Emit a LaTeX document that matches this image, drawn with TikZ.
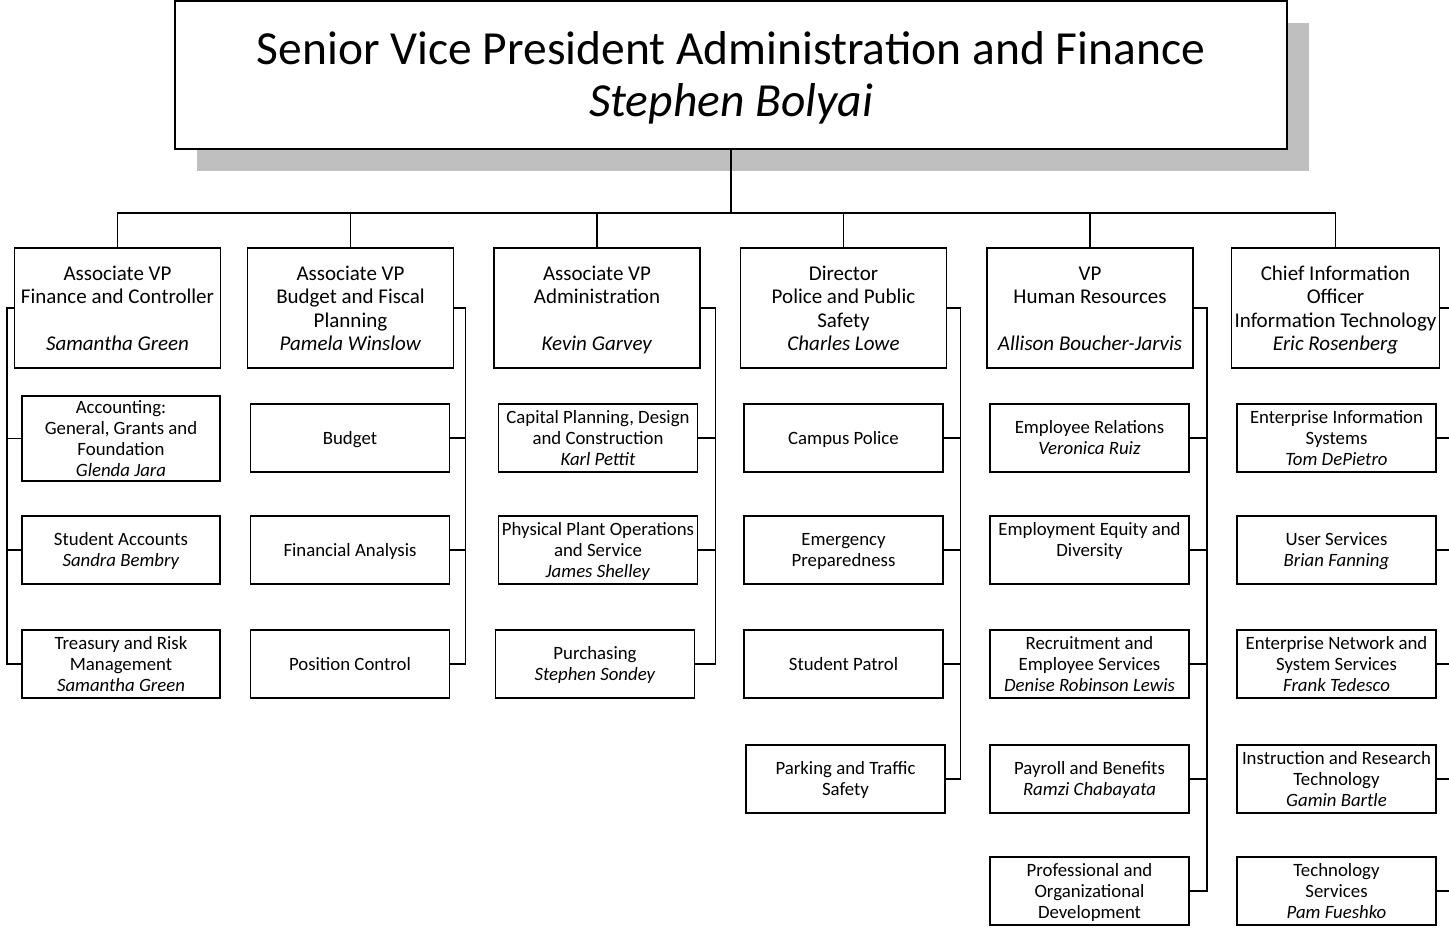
\documentclass[tikz,border=0pt]{standalone}
\usepackage{fontspec}
\setmainfont{Carlito}
\usetikzlibrary{shadows}
% invisible rules fixing the first-line height and last-line depth of node texts
\newcommand\HdA{\rule{0pt}{20.8pt}}
\newcommand\HdZ{\rule[-6pt]{0pt}{6pt}}
\newcommand\SbA{\rule{0pt}{17.2pt}}
\newcommand\SbZ{\rule[-5pt]{0pt}{5pt}}
\newcommand\TtA{\rule{0pt}{43pt}}
\newcommand\TtZ{\rule[-13pt]{0pt}{13pt}}
\begin{document}
\begin{tikzpicture}[x=1pt,y=-1pt,
  frame/.style={draw=black, line width=1.5pt, fill=white, inner sep=0pt, align=center},
  head/.style={frame, minimum width=206pt, minimum height=120pt, font=\fontsize{21}{23.5}\selectfont},
  sub/.style={frame, minimum width=199pt, minimum height=68pt, font=\fontsize{18.8}{21}\selectfont},
  wire/.style={line width=1.5pt, line cap=rect}]
\useasboundingbox (0,0) rectangle (1449,930);
\clip (0,0) rectangle (1449,930);
% title
\node[frame, minimum width=1112pt, minimum height=148pt, font=\fontsize{47.5}{52}\selectfont,
  drop shadow={shadow xshift=22pt, shadow yshift=-22pt, fill=black!25, opacity=1, draw=none}]
  (title) at (731,75) {\TtA Senior Vice President Administration and Finance\\\textit{Stephen Bolyai}\TtZ};
% level 1
\node[head] (l1) at (117.5,308) {\HdA Associate VP\\Finance and Controller\\\strut\\\textit{Samantha Green}\HdZ};
\node[head] (l2) at (350.5,308) {\HdA Associate VP\\Budget and Fiscal\\Planning\\\textit{Pamela Winslow}\HdZ};
\node[head] (l3) at (597,308) {\HdA Associate VP\\Administration\\\strut\\\textit{Kevin Garvey}\HdZ};
\node[head] (l4) at (843.5,308) {\HdA Director\\Police and Public\\Safety\\\textit{Charles Lowe}\HdZ};
\node[head] (l5) at (1090,308) {\HdA VP\\Human Resources\\\strut\\\textit{Allison Boucher-Jarvis}\HdZ};
\node[head, minimum width=208pt] (l6) at (1335.5,308) {\HdA Chief Information\\Officer\\Information Technology\\\textit{Eric Rosenberg}\HdZ};
% column 1
\node[sub, minimum width=198pt, minimum height=83pt] (c1a) at (121,438.5) {\SbA Accounting:\\General, Grants and\\Foundation\\\textit{Glenda Jara}\SbZ};
\node[sub, minimum width=198pt] (c1b) at (121,550) {\SbA Student Accounts\\\textit{Sandra Bembry}\SbZ};
\node[sub, minimum width=198pt] (c1c) at (121,664) {\SbA Treasury and Risk\\Management\\\textit{Samantha Green}\SbZ};
% column 2
\node[sub] (c2a) at (350,438) {\SbA Budget\SbZ};
\node[sub] (c2b) at (350,550) {\SbA Financial Analysis\SbZ};
\node[sub] (c2c) at (350,664) {\SbA Position Control\SbZ};
% column 3
\node[sub] (c3a) at (598,438) {\SbA Capital Planning, Design\\and Construction\\\textit{Karl Pettit}\SbZ};
\node[sub] (c3b) at (598,550) {\SbA Physical Plant Operations\\and Service\\\textit{James Shelley}\SbZ};
\node[sub] (c3c) at (595,664) {\SbA Purchasing\\\textit{Stephen Sondey}\SbZ};
% column 4
\node[sub] (c4a) at (843.5,438) {\SbA Campus Police\SbZ};
\node[sub] (c4b) at (843.5,550) {\SbA Emergency\\Preparedness\SbZ};
\node[sub] (c4c) at (843.5,664) {\SbA Student Patrol\SbZ};
\node[sub] (c4d) at (845.5,779) {\SbA Parking and Traffic\\Safety\SbZ};
% column 5
\node[sub] (c5a) at (1089.5,438) {\SbA Employee Relations\\\textit{Veronica Ruiz}\SbZ};
\node[sub] (c5b) at (1089.5,550) {\SbA Employment Equity and\\Diversity\\\SbZ};
\node[sub] (c5c) at (1089.5,664) {\SbA Recruitment and\\Employee Services\\\textit{Denise Robinson Lewis}\SbZ};
\node[sub] (c5d) at (1089.5,779) {\SbA Payroll and Benefits\\\textit{Ramzi Chabayata}\SbZ};
\node[sub] (c5e) at (1089.5,891) {\SbA Professional and\\Organizational\\Development\SbZ};
% column 6
\node[sub] (c6a) at (1336.5,438) {\SbA Enterprise Information\\Systems\\\textit{Tom DePietro}\SbZ};
\node[sub] (c6b) at (1336.5,550) {\SbA User Services\\\textit{Brian Fanning}\SbZ};
\node[sub] (c6c) at (1336.5,664) {\SbA Enterprise Network and\\System Services\\\textit{Frank Tedesco}\SbZ};
\node[sub] (c6d) at (1336.5,779) {\SbA Instruction and Research\\Technology\\\textit{Gamin Bartle}\SbZ};
\node[sub] (c6e) at (1336.5,891) {\SbA Technology\\Services\\\textit{Pam Fueshko}\SbZ};
% top connectors
\coordinate (bus) at (0,213);
\draw[wire] (title.south) -- (title.south |- bus);
\draw[wire] (l1.north) -- (l1.north |- bus) -- (l6.north |- bus) -- (l6.north);
\foreach \n in {l2,l3,l4,l5} \draw[wire] (\n.north) -- (\n.north |- bus);
% column 1 bracket (left)
\coordinate (k1) at (7,0);
\draw[wire] (l1.west) -| (k1 |- c1c.west) -- (c1c.west);
\foreach \c in {c1a,c1b} \draw[wire] (\c.west) -- (k1 |- \c.west);
% column 2
\coordinate (k2) at (465.5,0);
\draw[wire] (l2.east) -| (k2 |- c2c.east) -- (c2c.east);
\foreach \c in {c2a,c2b} \draw[wire] (\c.east) -- (k2 |- \c.east);
% column 3
\coordinate (k3) at (715.5,0);
\draw[wire] (l3.east) -| (k3 |- c3c.east) -- (c3c.east);
\foreach \c in {c3a,c3b} \draw[wire] (\c.east) -- (k3 |- \c.east);
% column 4
\coordinate (k4) at (960.5,0);
\draw[wire] (l4.east) -| (k4 |- c4d.east) -- (c4d.east);
\foreach \c in {c4a,c4b,c4c} \draw[wire] (\c.east) -- (k4 |- \c.east);
% column 5
\coordinate (k5) at (1207,0);
\draw[wire] (l5.east) -| (k5 |- c5e.east) -- (c5e.east);
\foreach \c in {c5a,c5b,c5c,c5d} \draw[wire] (\c.east) -- (k5 |- \c.east);
% column 6
\coordinate (k6) at (1453,0);
\draw[wire] (l6.east) -| (k6 |- c6e.east) -- (c6e.east);
\foreach \c in {c6a,c6b,c6c,c6d} \draw[wire] (\c.east) -- (k6 |- \c.east);
\end{tikzpicture}
\end{document}
